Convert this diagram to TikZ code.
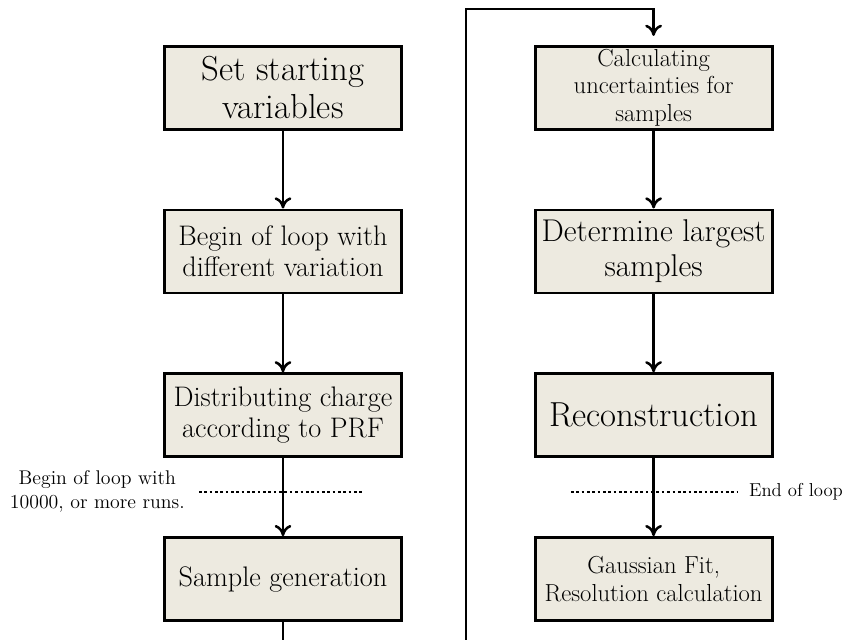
\documentclass[tikz,border=0pt]{standalone}
\usepackage{amsmath}
\usepackage{tikz}
\usetikzlibrary{arrows.meta}
\usetikzlibrary{positioning}

\definecolor{boxfill}{RGB}{237,234,224}
\tikzset{
	stepbox/.style={draw,line width=2pt,fill=boxfill,minimum width=5.925cm,minimum height=2.075cm,align=center,inner sep=1pt},
	hugetext/.style={font=\fontsize{24.7}{27}\selectfont},
	bigtext/.style={font=\fontsize{22.4}{24.8}\selectfont},
	midtext/.style={font=\fontsize{20.1}{22}\selectfont},
	smalltext/.style={font=\fontsize{17.5}{19.6}\selectfont},
	note/.style={font=\fontsize{14.1}{17}\selectfont,align=center,inner sep=0pt},
	flow/.style={line width=1.8pt,-{To[length=2.8mm,width=4.2mm]}},
	loopline/.style={line width=2pt,dash pattern=on 1.9pt off 1.9pt}
}

\begin{document}
\begin{tikzpicture}[node distance=1.95cm]
	\useasboundingbox (0,0) rectangle (21.125,-16);
	
	% left column
	\node[stepbox,hugetext] (start) at (7.075,-2.19) {Set starting\\variables};
	\node[stepbox,midtext,below=of start] (variation) {Begin of loop with\\different variation};
	\node[stepbox,midtext,below=of variation] (charge) {Distributing charge\\according to PRF};
	\node[stepbox,midtext,below=of charge] (sample) {Sample generation};
	
	% right column
	\node[stepbox,smalltext] (uncert) at (16.34,-2.19) {Calculating\\uncertainties for\\samples};
	\node[stepbox,bigtext,below=of uncert] (largest) {Determine largest\\samples};
	\node[stepbox,hugetext,below=of largest] (reco) {Reconstruction};
	\node[stepbox,smalltext,below=of reco] (fit) {Gaussian Fit,\\Resolution calculation};
	
	% loop markers
	\coordinate (loopstartL) at (4.975,-12.3);
	\coordinate (loopstartR) at (9.1,-12.3);
	\coordinate (loopendL) at (14.275,-12.3);
	\coordinate (loopendR) at (18.425,-12.3);
	\draw[loopline] (loopstartL) -- (loopstartR);
	\draw[loopline] (loopendL) -- (loopendR);
	\node[note,anchor=east] (loopstart) at (4.625,-12.28) {Begin of loop with\\10000, or more runs.};
	\node[note,anchor=west,font=\fontsize{13.3}{16}\selectfont] (loopend) at (18.72,-12.3) {End of loop};
	
	% connections
	\draw[flow] (start) -- (variation);
	\draw[flow] (variation) -- (charge);
	\draw[flow] (charge) -- (sample);
	\draw[flow] (uncert) -- (largest);
	\draw[flow] (largest) -- (reco);
	\draw[flow] (reco) -- (fit);
	
	\coordinate (bottomL) at (7.075,-16.1);
	\coordinate (bottomR) at (11.65,-16.1);
	\coordinate (topR) at (11.65,-0.225);
	\draw[line width=1.8pt] (sample) -- (bottomL);
	\draw[flow,shorten >=0.22cm] (bottomR) -- (topR) -| (uncert);
\end{tikzpicture}
\end{document}
